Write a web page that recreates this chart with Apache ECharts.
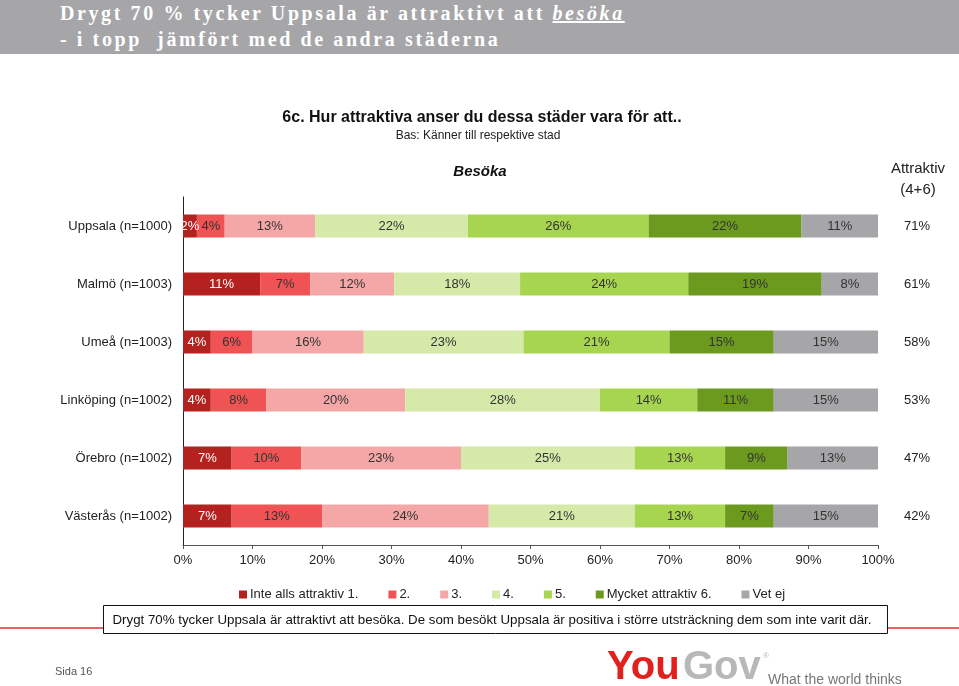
<!DOCTYPE html>
<html>
<head>
<meta charset="utf-8">
<script src="https://cdn.jsdelivr.net/npm/echarts@6/dist/echarts.min.js"></script>
<style>
	html, body { margin: 0; padding: 0; background: #fff; }
	#wrap { position: relative; width: 959px; height: 686px; }
	#chart { position: absolute; left: 0; top: 0; width: 959px; height: 686px; }
	#head {
		position: absolute; left: 0; top: 0; width: 959px; height: 54px;
		background: #a6a6a9; color: #fff;
		font-family: "Liberation Serif", "DejaVu Serif", serif; font-weight: bold;
		font-size: 20px; letter-spacing: 2.6px; line-height: 26px;
		box-sizing: border-box; padding: 0 0 0 60px;
	}
	#head .l1 { height: 26px; }
	#head u { font-style: italic; }
</style>
</head>
<body>
<div id="wrap">
	<div id="chart"></div>
	<div id="head">
		<div class="l1">Drygt 70 % tycker Uppsala är attraktivt att <u>besöka</u></div>
		<div>- i topp&nbsp; jämfört med de andra städerna</div>
	</div>
</div>
<script>
// städer (uppifrån och ned)
var categories = ['Uppsala (n=1000)', 'Malmö (n=1003)', 'Umeå (n=1003)', 'Linköping (n=1002)', 'Örebro (n=1002)', 'Västerås (n=1002)'];
// Attraktiv (4+6)
var attraktiv = ['71%', '61%', '58%', '53%', '47%', '42%'];

var seriesNames = ['Inte alls attraktiv 1.', '2.', '3.', '4.', '5.', 'Mycket attraktiv 6.', 'Vet ej'];
var seriesColors = ['#b3221f', '#ef5353', '#f5a7a7', '#d5eaa9', '#a8d54f', '#6b9a1f', '#a6a6a9'];

// andelar i procent (Malmö avläst från stapelbredd, etiketterna avrundas)
var v1 = [2, 11.1, 4, 4, 7, 7];
var v2 = [4, 7.2, 6, 8, 10, 13];
var v3 = [13, 12.1, 16, 20, 23, 24];
var v4 = [22, 18.1, 23, 28, 25, 21];
var v5 = [26, 24.2, 21, 14, 13, 13];
var v6 = [22, 19.2, 15, 11, 9, 7];
var vetEj = [11, 8.1, 15, 15, 13, 15];

var xTicks = [0, 10, 20, 30, 40, 50, 60, 70, 80, 90, 100];

var allValues = [v1, v2, v3, v4, v5, v6, vetEj];
var font = '"Liberation Sans", Arial, sans-serif';

var chart = echarts.init(document.getElementById('chart'));

var series = allValues.map(function (vals, i)
{
	return {
		name: seriesNames[i],
		type: 'bar',
		stack: 'total',
		barWidth: 23,
		data: vals,
		itemStyle: { color: seriesColors[i] },
		label: {
			show: true,
			position: 'inside',
			formatter: function (p) { return Math.round(p.value) + '%'; },
			fontFamily: font,
			fontSize: 13,
			color: i === 0 ? '#fff' : '#333'
		}
	};
});

var option = {
	animation: false,
	backgroundColor: '#fff',
	textStyle: { fontFamily: font },
	grid: { left: 183, right: 81, top: 197, bottom: 141 },
	legend: {
		data: seriesNames,
		left: 234,
		top: 583,
		itemWidth: 8,
		itemHeight: 8,
		itemGap: 30,
		icon: 'rect',
		textStyle: { fontFamily: font, fontSize: 13, color: '#222', padding: [0, 0, 0, -2] }
	},
	xAxis: {
		type: 'value',
		min: xTicks[0],
		max: xTicks[xTicks.length - 1],
		interval: 10,
		splitLine: { show: false },
		axisLine: { show: true, lineStyle: { color: '#555' } },
		axisTick: { show: true, length: 4, lineStyle: { color: '#555' } },
		axisLabel: { formatter: '{value}%', fontSize: 13, color: '#222', margin: 9 }
	},
	yAxis: [
		{
			type: 'category',
			data: categories,
			inverse: true,
			axisLine: { show: true, lineStyle: { color: '#222' } },
			axisTick: { show: false },
			axisLabel: { fontSize: 13, color: '#222', margin: 11 }
		},
		{
			type: 'category',
			data: attraktiv,
			inverse: true,
			position: 'right',
			axisLine: { show: false },
			axisTick: { show: false },
			axisLabel: { fontSize: 13, color: '#222', margin: 26, align: 'left', padding: [4, 0, 0, 0] }
		}
	],
	series: series,
	graphic: [
		{ type: 'text', style: { x: 482, y: 118, text: '6c. Hur attraktiva anser du dessa städer vara för att..', font: 'bold 16px ' + font, fill: '#111', textAlign: 'center', textVerticalAlign: 'middle' } },
		{ type: 'text', style: { x: 478, y: 136, text: 'Bas: Känner till respektive stad', font: '12px ' + font, fill: '#222', textAlign: 'center', textVerticalAlign: 'middle' } },
		{ type: 'text', style: { x: 480, y: 172, text: 'Besöka', font: 'italic bold 15px ' + font, fill: '#111', textAlign: 'center', textVerticalAlign: 'middle' } },
		{ type: 'text', style: { x: 918, y: 179, text: 'Attraktiv\n(4+6)', font: '15px ' + font, lineHeight: 21, fill: '#222', textAlign: 'center', textVerticalAlign: 'middle' } },
		{ type: 'line', shape: { x1: 0, y1: 628, x2: 959, y2: 628 }, style: { stroke: '#e03030', lineWidth: 1.5 } },
		{ type: 'rect', shape: { x: 103.5, y: 605.5, width: 784, height: 28 }, style: { fill: '#fff', stroke: '#111', lineWidth: 1 } },
		{ type: 'text', style: { x: 492, y: 620, text: 'Drygt 70% tycker Uppsala är attraktivt att besöka. De som besökt Uppsala är positiva i större utsträckning dem som inte varit där.', font: '13.3px ' + font, fill: '#111', textAlign: 'center', textVerticalAlign: 'middle' } },
		{ type: 'text', style: { x: 55, y: 672, text: 'Sida 16', font: '11px ' + font, fill: '#555', textVerticalAlign: 'middle' } },
		{ type: 'text', style: { x: 607, y: 668, text: 'You', font: 'bold 40px ' + font, fill: '#e3211c', textVerticalAlign: 'middle' } },
		{ type: 'text', style: { x: 683, y: 668, text: 'Gov', font: 'bold 40px ' + font, fill: '#b8b8b8', textVerticalAlign: 'middle' } },
		{ type: 'text', style: { x: 763, y: 656, text: '®', font: '8px ' + font, fill: '#b8b8b8', textVerticalAlign: 'middle' } },
		{ type: 'text', style: { x: 768, y: 680, text: 'What the world thinks', font: '14px ' + font, fill: '#777', textVerticalAlign: 'middle' } }
	]
};

chart.setOption(option);
</script>
</body>
</html>
